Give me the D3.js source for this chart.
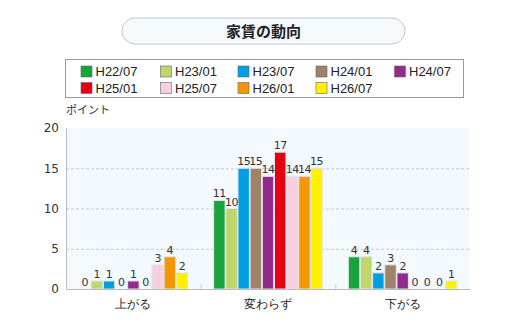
<!DOCTYPE html>
<html><head><meta charset="utf-8">
<script src="https://cdn.jsdelivr.net/npm/d3@7"></script>
<style>body{margin:0;background:#fff;}svg{display:block;font-family:"Noto Sans CJK JP","Noto Sans",sans-serif;}</style>
</head><body>
<script>
const title = "家賃の動向";
const yLabel = "ポイント";
const categories = ["上がる", "変わらず", "下がる"];
const seriesNames = ["H22/07","H23/01","H23/07","H24/01","H24/07","H25/01","H25/07","H26/01","H26/07"];
const seriesColors = ["#17a53b","#bed66a","#009fe3","#a0826a","#922b8c","#e60012","#f8cfe0","#f39800","#fff100"];
const values = [
  [0, 1, 1, 0, 1, 0, 3, 4, 2],
  [11, 10, 15, 15, 14, 17, 14, 14, 15],
  [4, 4, 2, 3, 2, 0, 0, 0, 1]
];
const yTicks = [0, 5, 10, 15, 20];

const W = 520, H = 327;
const svg = d3.select("body").append("svg").attr("width", W).attr("height", H);

// title pill
svg.append("rect").attr("x",122).attr("y",18).attr("width",283).attr("height",26)
  .attr("rx",13).attr("fill","#f3f9fd").attr("stroke","#c4c8cc");
svg.append("text").attr("x",263.5).attr("y",36.5).attr("text-anchor","middle")
  .attr("font-size",15).attr("font-weight","bold").attr("fill","#222").text(title);

// legend
svg.append("rect").attr("x",65.5).attr("y",59.5).attr("width",398).attr("height",38)
  .attr("fill","#fff").attr("stroke","#999");
const colX = [80.5, 160, 237.5, 315.5, 394];
seriesNames.forEach((n,i)=>{
  const r = Math.floor(i/5), c = i%5;
  const g = svg.append("g").attr("transform",`translate(${colX[c]},${65.5 + r*16.5})`);
  g.append("rect").attr("x",0.5).attr("y",0.5).attr("width",11).attr("height",11)
    .attr("fill",seriesColors[i]).attr("stroke","#666").attr("stroke-width",0.6);
  g.append("text").attr("x",15).attr("y",10.5).attr("font-size",13).attr("fill","#222")
    .attr("font-family","Arial, 'Liberation Sans', sans-serif").text(n);
});

// plot
const m = {left:66, right:470, top:128, bottom:289};
const x0 = d3.scaleBand().domain(categories).range([m.left, m.right]);
const x1 = d3.scaleBand().domain(seriesNames).range([13, x0.bandwidth()-13]).paddingInner(0.06);
const y = d3.scaleLinear().domain([0,20]).range([m.bottom, m.top]);

svg.append("rect").attr("x",m.left).attr("y",m.top).attr("width",m.right-m.left)
  .attr("height",m.bottom-m.top).attr("fill","#f3f9fd");

svg.append("g").selectAll("line").data(yTicks.filter(t=>t>0 && t<20)).join("line")
  .attr("x1",m.left).attr("x2",m.right).attr("y1",d=>y(d)+0.5).attr("y2",d=>y(d)+0.5)
  .attr("stroke","#c8c8c8").attr("stroke-dasharray","3,2");

const yAxis = svg.append("g").attr("transform",`translate(${m.left},0)`)
  .call(d3.axisLeft(y).tickValues(yTicks).tickSize(0).tickPadding(7));
yAxis.select(".domain").attr("stroke","#bbb");
yAxis.selectAll("text").attr("font-size",12).attr("fill","#333")
  .attr("font-family","'DejaVu Sans', sans-serif");

svg.append("text").attr("x",66).attr("y",114).attr("font-size",11).attr("fill","#333").text(yLabel);

const groups = svg.append("g").selectAll("g").data(values).join("g")
  .attr("transform",(d,i)=>`translate(${x0(categories[i])},0)`);
groups.selectAll("rect").data(d=>d.map((v,j)=>({v,j}))).join("rect")
  .filter(d=>d.v>0)
  .attr("x",d=>x1(seriesNames[d.j])).attr("y",d=>y(d.v))
  .attr("width",x1.bandwidth()).attr("height",d=>y(0)-y(d.v))
  .attr("fill",d=>seriesColors[d.j]).attr("stroke","#e2e6ea").attr("stroke-width",1);
groups.selectAll("text").data(d=>d.map((v,j)=>({v,j}))).join("text")
  .attr("x",d=>x1(seriesNames[d.j])+x1.bandwidth()/2).attr("y",d=>y(d.v)-3)
  .attr("text-anchor","middle").attr("font-size",11).attr("fill","#333")
  .attr("font-family","'DejaVu Sans', sans-serif").attr("letter-spacing","-0.5")
  .text(d=>d.v);

const xAxis = svg.append("g").attr("transform",`translate(0,${m.bottom})`)
  .call(d3.axisBottom(x0).tickSize(0).tickPadding(10));
xAxis.select(".domain").attr("stroke","#bbb");
xAxis.selectAll("text").attr("font-size",12).attr("fill","#222");
// group separator ticks
svg.append("g").selectAll("line").data(categories.slice(1)).join("line")
  .attr("x1",d=>x0(d)+0.5).attr("x2",d=>x0(d)+0.5).attr("y1",m.bottom-5).attr("y2",m.bottom)
  .attr("stroke","#ccc");
</script>
</body></html>
